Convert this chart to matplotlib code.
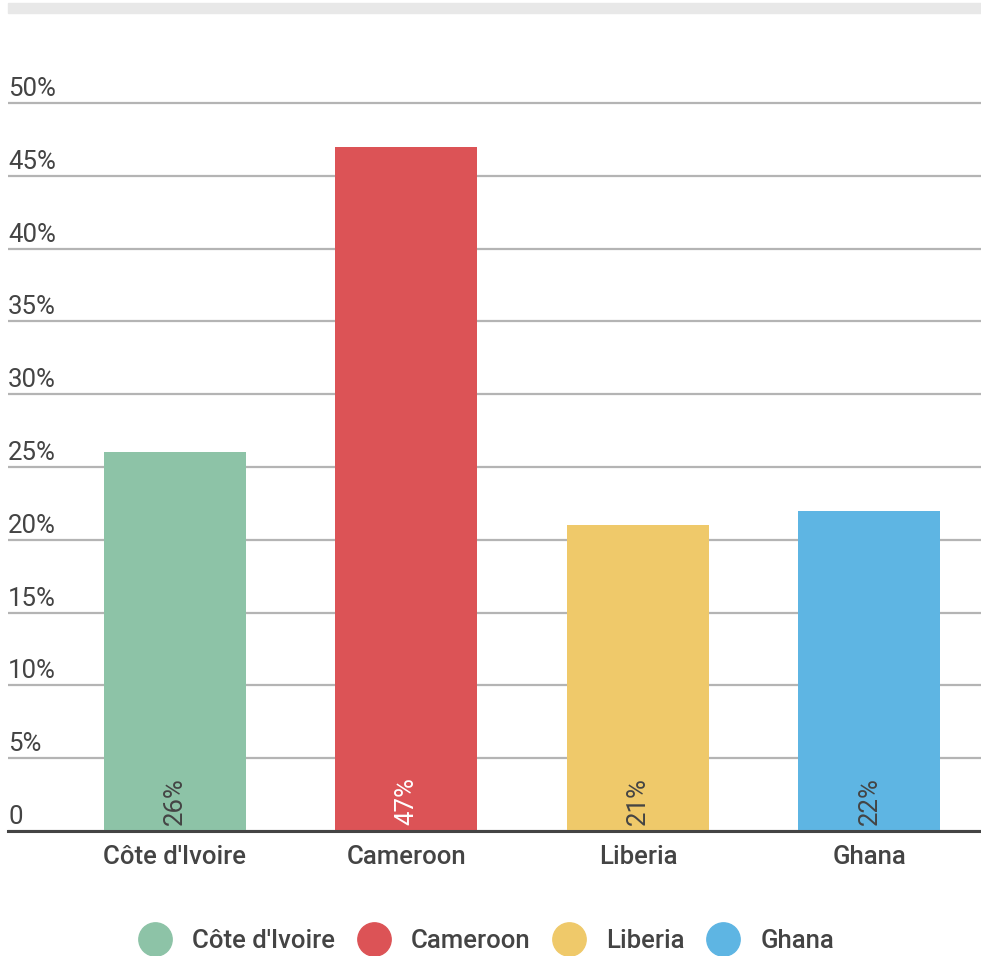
import matplotlib.pyplot as plt
import matplotlib.transforms as mtransforms
from matplotlib.lines import Line2D
from matplotlib.patches import Rectangle

countries = ["Côte d'Ivoire", "Cameroon", "Liberia", "Ghana"]
values = [26, 47, 21, 22]
colors = ["#8DC3A7", "#DC5356", "#EFC96A", "#5EB5E3"]
label_colors = ["#444444", "#FFFFFF", "#444444", "#444444"]
y_ticks = [0, 5, 10, 15, 20, 25, 30, 35, 40, 45, 50]
y_tick_labels = ["0", "5%", "10%", "15%", "20%", "25%", "30%", "35%", "40%", "45%", "50%"]

plt.rcParams["font.family"] = ["Roboto", "DejaVu Sans"]
text_color = "#444444"

fig = plt.figure(figsize=(9.81, 9.56), dpi=100)
W, H = 981, 956

# light grey band across the top
fig.patches.append(Rectangle((8 / W, 1 - 13 / H), 973 / W, 10 / H,
                             transform=fig.transFigure, color="#E8E8E8", zorder=0))

ax = fig.add_axes([8 / W, 125 / H, 973 / W, (831 - 95.7) / H])
x = list(range(len(countries)))
ax.bar(x, values, width=0.613, color=colors, zorder=2)

ax.set_xlim(-0.721, 3.482)
ax.set_ylim(0, 50.5)

for s in ["top", "right", "left"]:
    ax.spines[s].set_visible(False)
ax.spines["bottom"].set_color("#444444")
ax.spines["bottom"].set_linewidth(2.2)
ax.spines["bottom"].set_zorder(3)

ax.set_yticks(y_ticks)
ax.set_yticklabels([])
ax.tick_params(axis="y", length=0)
ax.yaxis.grid(True, color="#B4B4B4", linewidth=1.6, zorder=1)
ax.set_axisbelow(True)

ax.set_xticks(x)
ax.set_xticklabels(countries, fontsize=18.5, color=text_color, fontweight="medium")
ax.tick_params(axis="x", length=0, pad=10)

# y tick labels sit above the gridlines, left aligned
off_up = mtransforms.offset_copy(ax.get_yaxis_transform(), fig=fig, x=0, y=7, units="dots")
for v, lab in zip(y_ticks, y_tick_labels):
    ax.text(0, v, lab, transform=off_up, ha="left", va="baseline",
            fontsize=18.5, color=text_color)

# value labels inside bars, rotated
off_bar = mtransforms.offset_copy(ax.transData, fig=fig, x=0, y=6, units="dots")
for xi, v, lc in zip(x, values, label_colors):
    ax.text(xi, 0, f"{v}%", transform=off_bar, rotation=90, ha="center", va="bottom",
            fontsize=18.5, color=lc, zorder=4)

handles = [Line2D([0], [0], marker="o", linestyle="none", markersize=24,
                  markerfacecolor=c, markeredgecolor=c) for c in colors]
fig.legend(handles, countries, loc="center", bbox_to_anchor=(487 / W, 1 - 941 / H),
           ncol=4, frameon=False, prop={"size": 18.5, "weight": "medium"},
           labelcolor=text_color, handletextpad=0.85, columnspacing=0.9,
           handlelength=1.2)

fig.savefig("out.png", dpi=100, facecolor="white")
